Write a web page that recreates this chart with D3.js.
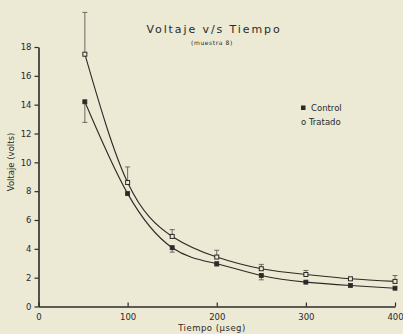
<!DOCTYPE html>
<html>
<head>
<meta charset="utf-8">
<script src="https://cdn.jsdelivr.net/npm/d3@7"></script>
<style>
  html, body { margin: 0; padding: 0; background: #ece9d5; }
  svg { display: block; }
  text { font-family: "DejaVu Sans", sans-serif; fill: #2b2a27; }
</style>
</head>
<body>
<div id="chart"></div>
<script>
// values
const tiempo = [52, 100, 150, 200, 250, 300, 350, 400];
const control = [14.2, 7.83, 4.08, 2.97, 2.15, 1.69, 1.46, 1.27];
const controlLow = [12.77, null, 3.77, 2.8, 1.85, null, null, null];
const tratado = [17.5, 8.6, 4.86, 3.43, 2.62, 2.22, 1.92, 1.74];
const tratadoHigh = [20.4, 9.68, 5.33, 3.9, 2.92, 2.5, null, 2.15];
const yTicks = [0, 2, 4, 6, 8, 10, 12, 14, 16, 18];
const xTicks = [0, 100, 200, 300, 400];

const ink = "#2b2a27";
const width = 403, height = 334;

const svg = d3.select("#chart").append("svg")
    .attr("width", width)
    .attr("height", height);

const x = d3.scaleLinear().domain([0, 400]).range([38.5, 395]);
const y = d3.scaleLinear().domain([0, 18]).range([306.5, 47]);

// axes
const yAxis = svg.append("g")
    .attr("transform", `translate(${x(0)},0)`)
    .call(d3.axisLeft(y).tickValues(yTicks).tickSize(4).tickPadding(3).tickSizeOuter(0));
const xAxis = svg.append("g")
    .attr("transform", `translate(0,${y(0)})`)
    .call(d3.axisBottom(x).tickValues(xTicks).tickSize(-4).tickPadding(7).tickSizeOuter(0));

[yAxis, xAxis].forEach(g => {
    g.select(".domain").attr("stroke", ink).attr("stroke-width", 1.6);
    g.selectAll(".tick line").attr("stroke", ink).attr("stroke-width", 1.2);
    g.selectAll(".tick text").attr("fill", ink)
        .style("font-size", "8.5px").style("font-family", "DejaVu Sans, sans-serif");
});

// fitted curves
const line = d3.line()
    .x(d => x(d[0]))
    .y(d => y(d[1]))
    .curve(d3.curveNatural);

const series = [
    { values: control, err: controlLow, filled: true },
    { values: tratado, err: tratadoHigh, filled: false }
];

series.forEach(s => {
    const pts = tiempo.map((t, i) => [t, s.values[i]]);
    svg.append("path")
        .datum(pts)
        .attr("fill", "none")
        .attr("stroke", ink)
        .attr("stroke-width", 1.1)
        .attr("d", line);

    // error bars
    const eb = pts.map((p, i) => ({ t: p[0], v: p[1], e: s.err[i] })).filter(d => d.e != null);
    svg.selectAll(null).data(eb).enter().append("line")
        .attr("x1", d => x(d.t)).attr("x2", d => x(d.t))
        .attr("y1", d => y(d.v)).attr("y2", d => y(d.e))
        .attr("stroke", "#6b6a64").attr("stroke-width", 1);
    svg.selectAll(null).data(eb).enter().append("line")
        .attr("x1", d => x(d.t) - 2.5).attr("x2", d => x(d.t) + 2.5)
        .attr("y1", d => y(d.e)).attr("y2", d => y(d.e))
        .attr("stroke", "#6b6a64").attr("stroke-width", 1);

    svg.selectAll(null).data(pts).enter().append("rect")
        .attr("x", d => x(d[0]) - 2)
        .attr("y", d => y(d[1]) - 2)
        .attr("width", 4).attr("height", 4)
        .attr("fill", s.filled ? ink : "#ece9d5")
        .attr("stroke", ink)
        .attr("stroke-width", s.filled ? 0.8 : 1);
});

// titles
svg.append("text")
    .attr("x", 214).attr("y", 33)
    .attr("text-anchor", "middle")
    .style("font-size", "11px")
    .style("letter-spacing", "1.9px")
    .text("Voltaje  v/s  Tiempo");
svg.append("text")
    .attr("x", 212).attr("y", 45)
    .attr("text-anchor", "middle")
    .style("font-size", "6px")
    .style("letter-spacing", "0.6px")
    .text("(muestra 8)");

// axis labels
svg.append("text")
    .attr("transform", "translate(14,162) rotate(-90)")
    .attr("text-anchor", "middle")
    .style("font-size", "8.5px")
    .text("Voltaje (volts)");
svg.append("text")
    .attr("x", 212).attr("y", 331)
    .attr("text-anchor", "middle")
    .style("font-size", "8.5px")
    .style("letter-spacing", "0.5px")
    .text("Tiempo (µseg)");

// legend
const legend = svg.append("g");
legend.append("rect").attr("x", 301).attr("y", 105.5).attr("width", 4.5).attr("height", 4.5).attr("fill", ink);
legend.append("text").attr("x", 311).attr("y", 111).style("font-size", "8.5px").text("Control");
legend.append("text").attr("x", 301).attr("y", 124.5).style("font-size", "8.5px").text("o Tratado");
</script>
</body>
</html>
